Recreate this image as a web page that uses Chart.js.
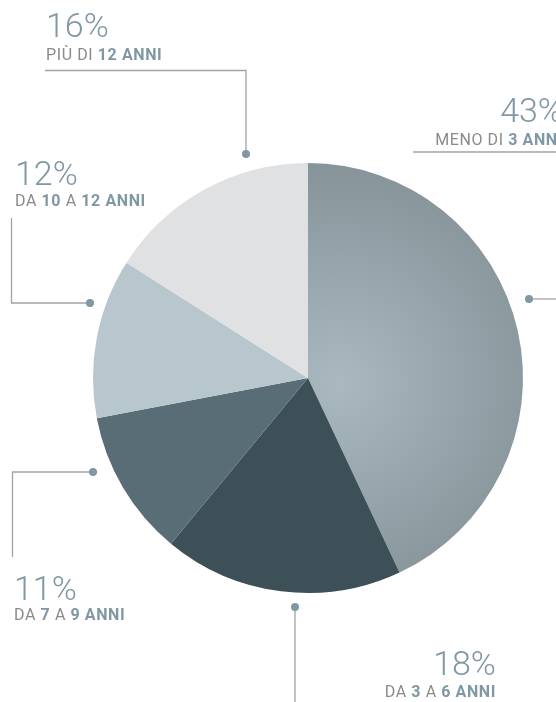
<!DOCTYPE html>
<html lang="it">
<head>
<meta charset="utf-8">
<title>Età</title>
<script src="https://cdn.jsdelivr.net/npm/chart.js@4.4.1/dist/chart.umd.min.js"></script>
<style>
  html, body { margin: 0; padding: 0; background: #fff; }
  #wrap { width: 556px; height: 702px; position: relative; overflow: hidden; }
</style>
</head>
<body>
<div id="wrap"><canvas id="pie" width="556" height="702"></canvas></div>
<script>
// categories: [bold] parts are drawn in the accent colour
const categories = ["MENO DI [3 ANNI]", "DA [3] A [6 ANNI]", "DA [7] A [9 ANNI]", "DA [10] A [12 ANNI]", "PIÙ DI [12 ANNI]"];
const shares = [43, 18, 11, 12, 16];
const sliceColors = [null, "#3d5058", "#586d75", "#b8c6cd", "#e0e1e3"];

const ACCENT = "#7f98a3";
const GREY_TEXT = "#8a8a8a";
const LINE = "#a2a2a2";
const FONT = "Roboto, 'Open Sans', sans-serif";

// leader line + text placement for each slice (page pixels)
const labelLayout = [
  { dot: [529, 299], path: [[529, 299], [560, 299]], rule: [[413, 152], [560, 152]], x: 563, pctY: 122, subY: 145, align: "right" },
  { dot: [295, 607], path: [[295, 607], [295, 705]], x: 496, pctY: 675, subY: 697, align: "right" },
  { dot: [93, 472], path: [[93, 472], [12.5, 472], [12.5, 557]], x: 14, pctY: 600, subY: 620, align: "left" },
  { dot: [90, 303], path: [[90, 303], [11.5, 303], [11.5, 218]], x: 15, pctY: 185, subY: 206, align: "left" },
  { dot: [246, 154], path: [[246, 154], [246, 70.5], [45, 70.5]], x: 46, pctY: 37, subY: 60, align: "left" }
];

function parseParts(str) {
  const parts = [];
  const re = /\[([^\]]+)\]|([^\[]+)/g;
  let m;
  while ((m = re.exec(str))) {
    if (m[1]) parts.push({ text: m[1], bold: true });
    else parts.push({ text: m[2], bold: false });
  }
  return parts;
}

function drawRich(ctx, str, x, y, align) {
  const parts = parseParts(str);
  const fontOf = p => (p.bold ? "bold " : "") + "16px " + FONT;
  ctx.letterSpacing = "0.6px";
  let total = 0;
  parts.forEach(p => { ctx.font = fontOf(p); total += ctx.measureText(p.text).width; });
  let cx = align === "right" ? x - total : x;
  ctx.textAlign = "left";
  parts.forEach(p => {
    ctx.font = fontOf(p);
    ctx.fillStyle = p.bold ? ACCENT : GREY_TEXT;
    ctx.fillText(p.text, cx, y);
    cx += ctx.measureText(p.text).width;
  });
  ctx.letterSpacing = "0px";
}

const leaderLabels = {
  id: "leaderLabels",
  afterDraw(chart) {
    const ctx = chart.ctx;
    const values = chart.data.datasets[0].data;
    ctx.save();
    ctx.lineWidth = 1.3;
    ctx.strokeStyle = LINE;
    labelLayout.forEach((lay, i) => {
      ctx.beginPath();
      lay.path.forEach((pt, k) => k ? ctx.lineTo(pt[0], pt[1]) : ctx.moveTo(pt[0], pt[1]));
      ctx.stroke();
      if (lay.rule) {
        ctx.beginPath();
        ctx.moveTo(lay.rule[0][0], lay.rule[0][1]);
        ctx.lineTo(lay.rule[1][0], lay.rule[1][1]);
        ctx.stroke();
      }
      ctx.fillStyle = ACCENT;
      ctx.beginPath();
      ctx.arc(lay.dot[0], lay.dot[1], 4, 0, Math.PI * 2);
      ctx.fill();

      ctx.font = "300 34px " + FONT;
      ctx.textBaseline = "alphabetic";
      ctx.textAlign = lay.align;
      ctx.fillStyle = ACCENT;
      ctx.fillText(values[i] + "%", lay.x, lay.pctY);
      drawRich(ctx, chart.data.labels[i], lay.x, lay.subY, lay.align);
    });
    ctx.restore();
  }
};

// the biggest slice has a soft radial shading, lighter near the centre
function sliceFill(context) {
  const i = context.dataIndex;
  if (sliceColors[i]) return sliceColors[i];
  const area = context.chart.chartArea;
  if (!area) return "#97a6ad";
  const r = Math.min(area.right - area.left, area.bottom - area.top) / 2;
  const cx = (area.left + area.right) / 2 + 30;
  const cy = (area.top + area.bottom) / 2 + 5;
  const g = context.chart.ctx.createRadialGradient(cx, cy, 0, cx, cy, r);
  g.addColorStop(0, "#aab8bf");
  g.addColorStop(0.5, "#98a6ad");
  g.addColorStop(1, "#87959b");
  return g;
}

new Chart(document.getElementById("pie"), {
  type: "pie",
  data: {
    labels: categories,
    datasets: [{ data: shares, backgroundColor: sliceFill, borderWidth: 0, hoverOffset: 0 }]
  },
  options: {
    responsive: false,
    animation: false,
    events: [],
    layout: { padding: { left: 93, right: 33, top: 163, bottom: 109 } },
    plugins: { legend: { display: false }, tooltip: { enabled: false } }
  },
  plugins: [leaderLabels]
});
</script>
</body>
</html>
